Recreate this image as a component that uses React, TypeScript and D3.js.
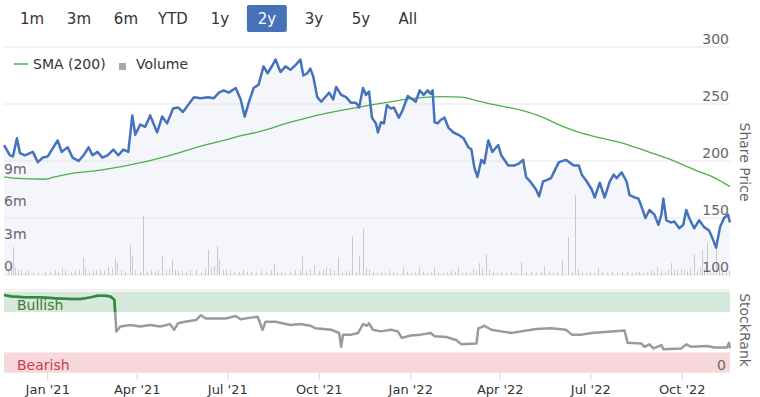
import React from "react";
import * as d3 from "d3";

const rangeButtons = ["1m", "3m", "6m", "YTD", "1y", "2y", "3y", "5y", "All"];
const selectedButton = "2y";

const priceDates = ["2020-11-18","2020-11-24","2020-11-27","2020-12-01","2020-12-04","2020-12-09","2020-12-17","2020-12-22","2020-12-27","2021-01-01","2021-01-08","2021-01-11","2021-01-15","2021-01-21","2021-01-26","2021-02-01","2021-02-06","2021-02-11","2021-02-15","2021-02-20","2021-02-25","2021-03-02","2021-03-08","2021-03-13","2021-03-18","2021-03-23","2021-03-27","2021-03-30","2021-04-04","2021-04-09","2021-04-14","2021-04-21","2021-04-26","2021-05-01","2021-05-07","2021-05-12","2021-05-17","2021-05-22","2021-05-28","2021-06-04","2021-06-11","2021-06-17","2021-06-22","2021-06-27","2021-07-02","2021-07-09","2021-07-14","2021-07-18","2021-07-22","2021-07-27","2021-08-01","2021-08-06","2021-08-10","2021-08-15","2021-08-18","2021-08-23","2021-08-28","2021-09-02","2021-09-07","2021-09-12","2021-09-15","2021-09-19","2021-09-22","2021-09-25","2021-09-29","2021-10-03","2021-10-06","2021-10-11","2021-10-15","2021-10-18","2021-10-23","2021-10-28","2021-11-02","2021-11-07","2021-11-10","2021-11-14","2021-11-17","2021-11-20","2021-11-23","2021-11-27","2021-11-29","2021-12-02","2021-12-05","2021-12-08","2021-12-12","2021-12-15","2021-12-20","2021-12-24","2021-12-29","2022-01-03","2022-01-06","2022-01-10","2022-01-14","2022-01-18","2022-01-21","2022-01-23","2022-01-25","2022-01-28","2022-01-31","2022-02-04","2022-02-08","2022-02-13","2022-02-18","2022-02-23","2022-02-28","2022-03-03","2022-03-06","2022-03-09","2022-03-13","2022-03-16","2022-03-20","2022-03-24","2022-03-27","2022-03-30","2022-04-02","2022-04-09","2022-04-15","2022-04-20","2022-04-24","2022-04-27","2022-05-02","2022-05-07","2022-05-10","2022-05-14","2022-05-17","2022-05-22","2022-05-27","2022-05-30","2022-06-06","2022-06-14","2022-06-19","2022-06-22","2022-06-27","2022-07-02","2022-07-05","2022-07-10","2022-07-15","2022-07-20","2022-07-24","2022-07-27","2022-08-01","2022-08-06","2022-08-09","2022-08-14","2022-08-18","2022-08-21","2022-08-25","2022-08-29","2022-09-03","2022-09-07","2022-09-10","2022-09-12","2022-09-15","2022-09-20","2022-09-23","2022-09-28","2022-10-02","2022-10-05","2022-10-08","2022-10-13","2022-10-18","2022-10-23","2022-10-28","2022-10-31","2022-11-04","2022-11-08","2022-11-12","2022-11-16","2022-11-18"];
const priceValues = [214,205,204,220,207,205,208,199,203,204,214,218,208,212,203,200,205,212,205,208,203,205,210,205,210,208,240,223,232,230,240,225,239,233,246,247,243,249,256,255,256,255,260,262,260,264,254,239,251,264,267,283,277,284,289,278,283,280,284,289,275,277,281,274,256,252,255,260,254,265,258,256,251,251,247,264,258,261,238,233,225,234,233,249,246,247,238,245,257,254,252,262,258,262,259,262,234,233,236,238,229,225,223,220,212,210,194,186,201,198,218,208,211,214,205,196,196,198,201,186,181,175,169,182,183,185,194,199,201,196,196,188,182,175,168,181,168,182,188,185,190,182,170,168,167,160,150,157,153,144,153,167,148,146,147,141,144,157,150,141,148,142,139,133,124,142,150,153,146];

const smaDates = ["2020-11-18","2020-11-27","2020-12-29","2021-01-08","2021-01-24","2021-02-23","2021-04-07","2021-05-04","2021-06-04","2021-06-27","2021-07-09","2021-08-03","2021-09-02","2021-10-03","2021-11-02","2021-12-02","2022-01-04","2022-01-31","2022-02-21","2022-03-06","2022-03-28","2022-04-22","2022-05-12","2022-06-04","2022-06-22","2022-07-12","2022-08-01","2022-08-28","2022-09-20","2022-10-14","2022-11-03","2022-11-18"];
const smaValues = [186,185,184,186,189,192,199,205,213,218,221,226,234,241,246,250.6,255,256.4,256,253.5,249,244.7,239,230,224.5,220,216,208,201,192,185,177.5];

const volumeDates = ["2020-11-22","2020-11-25","2020-11-27","2020-11-29","2020-12-02","2020-12-05","2020-12-09","2020-12-12","2020-12-17","2020-12-22","2020-12-29","2021-01-03","2021-01-08","2021-01-11","2021-01-15","2021-01-18","2021-01-24","2021-01-28","2021-02-01","2021-02-05","2021-02-07","2021-02-11","2021-02-15","2021-02-19","2021-02-23","2021-02-27","2021-03-03","2021-03-07","2021-03-10","2021-03-12","2021-03-16","2021-03-20","2021-03-25","2021-03-27","2021-03-30","2021-04-04","2021-04-07","2021-04-11","2021-04-15","2021-04-19","2021-04-22","2021-04-26","2021-04-30","2021-05-03","2021-05-06","2021-05-09","2021-05-12","2021-05-16","2021-05-20","2021-05-24","2021-05-30","2021-06-04","2021-06-08","2021-06-11","2021-06-14","2021-06-17","2021-06-20","2021-06-22","2021-06-26","2021-06-29","2021-07-03","2021-07-07","2021-07-12","2021-07-16","2021-07-20","2021-07-24","2021-07-29","2021-08-03","2021-08-08","2021-08-13","2021-08-16","2021-08-20","2021-08-24","2021-08-28","2021-09-02","2021-09-07","2021-09-12","2021-09-14","2021-09-18","2021-09-22","2021-09-26","2021-10-01","2021-10-05","2021-10-08","2021-10-12","2021-10-16","2021-10-20","2021-10-24","2021-10-28","2021-10-31","2021-11-03","2021-11-07","2021-11-10","2021-11-14","2021-11-17","2021-11-20","2021-11-24","2021-11-28","2021-12-02","2021-12-06","2021-12-10","2021-12-14","2021-12-18","2021-12-24","2021-12-28","2022-01-01","2022-01-05","2022-01-09","2022-01-13","2022-01-17","2022-01-21","2022-01-24","2022-01-28","2022-02-02","2022-02-06","2022-02-10","2022-02-14","2022-02-18","2022-02-22","2022-02-26","2022-03-02","2022-03-05","2022-03-08","2022-03-11","2022-03-14","2022-03-18","2022-03-21","2022-03-25","2022-03-29","2022-04-02","2022-04-07","2022-04-12","2022-04-17","2022-04-22","2022-04-27","2022-05-02","2022-05-07","2022-05-12","2022-05-15","2022-05-20","2022-05-24","2022-05-28","2022-06-02","2022-06-08","2022-06-12","2022-06-15","2022-06-18","2022-06-22","2022-06-26","2022-06-30","2022-07-04","2022-07-08","2022-07-12","2022-07-17","2022-07-22","2022-07-27","2022-08-01","2022-08-06","2022-08-11","2022-08-15","2022-08-19","2022-08-23","2022-08-27","2022-08-31","2022-09-03","2022-09-06","2022-09-10","2022-09-14","2022-09-17","2022-09-20","2022-09-23","2022-09-26","2022-09-30","2022-10-03","2022-10-06","2022-10-09","2022-10-13","2022-10-16","2022-10-19","2022-10-21","2022-10-23","2022-10-26","2022-10-29","2022-11-01","2022-11-04","2022-11-07","2022-11-10","2022-11-14","2022-11-17"];
const volumeValues = [0.6,0.5,2.6,0.7,0.4,0.5,0.3,0.4,0.2,0.2,0.3,0.3,0.4,0.3,0.6,0.4,0.3,0.4,0.5,1.6,0.7,0.3,0.4,0.4,0.5,0.4,0.7,0.6,1.5,1.1,0.4,0.3,2.8,1.7,0.4,0.3,5.5,0.3,0.4,0.3,0.5,1.8,0.4,0.6,1.4,0.5,0.4,0.4,0.3,0.4,0.5,0.3,0.6,2.3,0.7,0.8,2.7,1.4,0.5,0.5,0.4,0.3,0.3,0.5,0.3,0.3,0.2,0.4,0.3,0.5,1.1,0.3,0.3,0.2,0.3,0.5,0.4,1.7,0.4,0.5,0.9,0.4,0.5,0.7,0.6,0.4,1.6,0.3,0.4,0.3,3.6,0.3,1.7,4.3,0.6,0.5,0.3,0.2,0.3,0.2,0.4,0.3,0.2,0.7,0.3,0.2,0.3,0.7,0.3,0.2,0.3,0.7,0.3,0.2,0.3,0.4,0.3,0.7,0.2,0.3,0.2,0.6,0.4,1.1,0.6,1.9,0.5,0.3,0.2,0.3,0.2,0.3,0.2,1.2,0.3,0.3,0.2,0.3,0.8,0.3,0.2,0.3,1.4,3.5,0.3,7.4,0.5,0.3,0.2,0.3,0.2,0.6,0.3,0.2,0.3,0.2,0.3,0.3,0.2,0.3,0.3,0.2,0.3,0.4,0.3,0.7,0.4,0.3,0.5,1.1,0.4,0.5,0.6,0.4,0.3,0.6,1.9,0.4,0.7,2.3,0.6,3.0,0.5,0.6,2.7,0.5,0.4,0.3,0.4];

const rankDates = ["2020-11-18","2020-11-26","2020-12-09","2020-12-24","2021-01-08","2021-01-24","2021-02-03","2021-02-13","2021-02-20","2021-02-28","2021-03-05","2021-03-09","2021-03-11","2021-03-15","2021-03-25","2021-04-04","2021-04-14","2021-04-24","2021-05-04","2021-05-08","2021-05-12","2021-05-19","2021-05-30","2021-06-04","2021-06-09","2021-06-19","2021-06-29","2021-07-09","2021-07-14","2021-07-24","2021-07-31","2021-08-05","2021-08-08","2021-08-18","2021-09-02","2021-09-12","2021-09-22","2021-09-27","2021-10-13","2021-10-21","2021-10-23","2021-10-25","2021-11-02","2021-11-09","2021-11-14","2021-11-18","2021-11-20","2021-11-24","2021-12-02","2021-12-12","2021-12-19","2021-12-23","2022-01-01","2022-01-11","2022-01-21","2022-01-25","2022-02-06","2022-02-16","2022-02-21","2022-03-08","2022-03-10","2022-03-13","2022-03-16","2022-03-23","2022-04-02","2022-04-12","2022-04-22","2022-05-07","2022-05-22","2022-06-06","2022-06-12","2022-06-22","2022-07-02","2022-07-22","2022-08-04","2022-08-07","2022-08-21","2022-08-24","2022-08-29","2022-09-02","2022-09-10","2022-09-12","2022-09-30","2022-10-05","2022-10-10","2022-10-26","2022-11-02","2022-11-15","2022-11-17","2022-11-18"];
const rankValues = [96,94,93,93,92,91,91,93,95,95,94,90,51,57,59,57,59,57,60,53,61,63,65,71,67,67,67,70,66,68,69,53,63,63,59,60,58,55,53,49,32,47,47,49,60,58,61,53,51,53,51,43,46,47,49,45,44,40,35,36,55,56,58,53,51,49,51,54,55,53,47,47,49,51,52,37,36,32,35,30,34,29,30,35,32,33,31,31,37,30];

const xTickDates = ["2021-01-01","2021-04-01","2021-07-01","2021-10-01","2022-01-01","2022-04-01","2022-07-01","2022-10-01"];
const priceTicks = [100, 150, 200, 250, 300];
const volumeTicks = [0, 3, 6, 9];
const rankBands = [
  { label: "Bullish", from: 75, to: 100 },
  { label: "Bearish", from: 0, to: 25 },
];

const parse = d3.timeParse("%Y-%m-%d");
const FONT = "'DejaVu Sans', Verdana, sans-serif";

export default function App() {
  const W = 760, H = 397;
  const left = 4, right = 730;
  const x = d3.scaleTime().domain([parse("2020-11-18")!, parse("2022-11-18")!]).range([left, right]);
  const yP = d3.scaleLinear().domain([100, 300]).range([275, 47]);
  const yV = d3.scaleLinear().domain([0, 9]).range([275, 177.8]);
  const yR = d3.scaleLinear().domain([0, 100]).range([372.7, 291.7]);

  const price = priceDates.map((d, i) => ({ d: parse(d)!, v: priceValues[i] }));
  const sma = smaDates.map((d, i) => ({ d: parse(d)!, v: smaValues[i] }));
  const vol = volumeDates.map((d, i) => ({ d: parse(d)!, v: volumeValues[i] }));
  const rank = rankDates.map((d, i) => ({ d: parse(d)!, v: rankValues[i] }));

  const priceLine = d3.line<any>().x((p) => x(p.d)).y((p) => yP(p.v));
  const priceArea = d3.area<any>().x((p) => x(p.d)).y0(yP(100)).y1((p) => yP(p.v));
  const smaLine = d3.line<any>().x((p) => x(p.d)).y((p) => yP(p.v)).curve(d3.curveMonotoneX);
  const rankLine = d3.line<any>().x((p) => x(p.d)).y((p) => yR(p.v));

  const btn = d3.scaleBand().domain(rangeButtons).range([12, 12 + 46.2 * rangeButtons.length]).paddingInner(0.15);
  const fmt = d3.timeFormat("%b '%y");

  return (
    <svg width={W} height={H} style={{ position: "absolute", left: 0, top: 0, fontFamily: FONT }}>
      <defs>
        <clipPath id="bullClip">
          <rect x={0} y={0} width={W} height={yR(75)} />
        </clipPath>
      </defs>
      <rect width={W} height={H} fill="#fff" />
      {/* range selector */}
      {rangeButtons.map((b) => {
        const sel = b === selectedButton;
        const bx = btn(b)!;
        return (
          <g key={b}>
            {sel && <rect x={bx} y={5} width={btn.bandwidth()} height={27} rx={2} fill="#4672b8" />}
            <text x={bx + btn.bandwidth() / 2} y={24} textAnchor="middle" fontSize={15} fill={sel ? "#fff" : "#333"}>{b}</text>
          </g>
        );
      })}

      {/* price panel */}
      <path d={priceArea(price)!} fill="#f4f6fb" />
      {priceTicks.map((t) => (
        <line key={t} x1={left} x2={right} y1={yP(t)} y2={yP(t)} stroke="#e6e6e6" strokeWidth={1} />
      ))}
      {vol.map((p, i) => (
        <line key={i} x1={Math.round(x(p.d)) + 0.5} x2={Math.round(x(p.d)) + 0.5} y1={yV(0)} y2={yV(p.v)} stroke="#c8c8d2" strokeWidth={1} />
      ))}
      <path d={smaLine(sma)!} fill="none" stroke="#4db046" strokeWidth={1.3} />
      <path d={priceLine(price)!} fill="none" stroke="#4472bd" strokeWidth={2.5} strokeLinejoin="round" />
      {priceTicks.map((t) => (
        <text key={t} x={729} y={yP(t) - 3} textAnchor="end" fontSize={14} fill="#666">{t}</text>
      ))}
      {volumeTicks.map((t) => (
        <text key={t} x={4} y={yV(t) - 4} fontSize={14} fill="#666">{t === 0 ? "0" : `${t}m`}</text>
      ))}
      <text transform="translate(740,162) rotate(90)" textAnchor="middle" fontSize={14} fill="#666">Share Price</text>

      {/* legend */}
      <line x1={14} x2={28} y1={64} y2={64} stroke="#4db046" strokeWidth={1.5} />
      <text x={33} y={69} fontSize={14} fill="#333">SMA (200)</text>
      <rect x={119} y={63} width={7} height={7} fill="#aaa" />
      <text x={136} y={69} fontSize={14} fill="#333">Volume</text>

      {/* stockrank panel */}
      <line x1={left} x2={right} y1={290} y2={290} stroke="#e6e6e6" />
      {rankBands.map((b) => (
        <rect key={b.label} x={left} width={right - left} y={yR(b.to)} height={yR(b.from) - yR(b.to)} fill={b.label === "Bullish" ? "#d4e9da" : "#f6d8db"} />
      ))}
      <text x={17} y={310} fontSize={14} fill="#3f7a34">Bullish</text>
      <text x={17} y={370} fontSize={14} fill="#d03a4c">Bearish</text>
      <path d={rankLine(rank)!} fill="none" stroke="#9a9a9a" strokeWidth={2.5} strokeLinejoin="round" />
      <path d={rankLine(rank)!} fill="none" stroke="#2e8b3e" strokeWidth={2.5} strokeLinejoin="round" clipPath="url(#bullClip)" />
      <text x={726} y={370} textAnchor="end" fontSize={14} fill="#666">0</text>
      <text transform="translate(740,330) rotate(90)" textAnchor="middle" fontSize={14} fill="#666">StockRank</text>

      {/* x axis */}
      {xTickDates.map((t) => {
        const d = parse(t)!;
        return (
          <g key={t}>
            <line x1={x(d)} x2={x(d)} y1={373} y2={380} stroke="#ccd6eb" />
            <text x={x(d)} y={394} textAnchor="middle" fontSize={13} fill="#333">{fmt(d)}</text>
          </g>
        );
      })}
    </svg>
  );
}
